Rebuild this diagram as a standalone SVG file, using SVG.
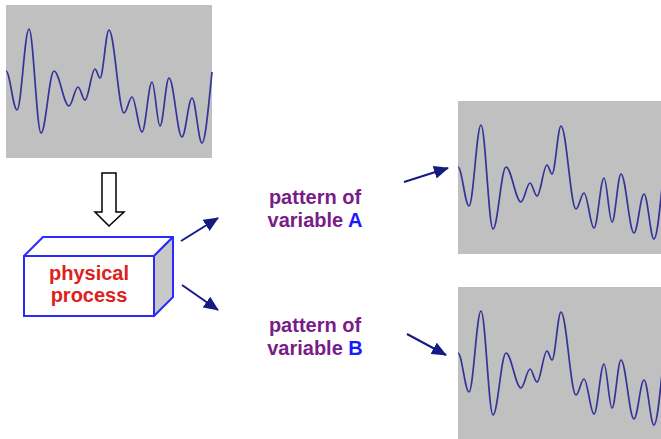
<svg xmlns="http://www.w3.org/2000/svg" width="661" height="439" viewBox="0 0 661 439">
<style>
.panel{fill:#c0c0c0}
.wave{fill:none;stroke:#33339a;stroke-width:1.7;stroke-linejoin:round}
.conn{stroke:#141a80;stroke-width:2;fill:none}
.lbl{font-family:"Liberation Sans",Arial,sans-serif;font-weight:bold;font-size:20px;text-anchor:middle}
.purple{fill:#7a1c88}
.red{fill:#e0201c}
.blue{fill:#1a1aff}
</style>
<defs>
<path id="wavePath" d="M6,71 C10,71 13,110 17,110 C21.3,110 24.7,29 29,29 C33.3,29 36.7,133 41,133 C45.7,133 49.3,71 54,71 C59.4,71 63.6,106 69,106 C72.2,106 74.8,87 78,87 C80.5,87 82.5,100 85,100 C88.6,100 91.4,69 95,69 C96.8,69 98.2,78 100,78 C103.2,78 105.8,30 109,30 C114.4,30 118.6,113 124,113 C126.9,113 129.1,97 132,97 C135.6,97 138.4,132 142,132 C145.6,132 148.4,82 152,82 C154.9,82 157.1,126 160,126 C163.2,126 165.8,78 169,78 C173.7,78 177.3,137 182,137 C185.6,137 188.4,98 192,98 C195.6,98 198.4,143 202,143 C205.6,143 209,100 212,72"/>
<marker id="ah" viewBox="0 0 15 13" refX="14" refY="6.5" markerWidth="15" markerHeight="13" markerUnits="userSpaceOnUse" orient="auto">
<path d="M0,0 L15,6.5 L0,13 Z" fill="#141a80"/>
</marker>
</defs>
<rect width="661" height="439" fill="#ffffff"/>
<g id="input-signal">
<rect class="panel" x="6" y="5" width="206" height="153"/>
<use href="#wavePath" class="wave"/>
</g>
<g id="signal-A">
<rect class="panel" x="458" y="101" width="210" height="153"/>
<use href="#wavePath" class="wave" transform="translate(452,96)"/>
</g>
<g id="signal-B">
<rect class="panel" x="458" y="287" width="210" height="160"/>
<use href="#wavePath" class="wave" transform="translate(452,282)"/>
</g>
<g id="physical-process">
<polygon points="24,256 43,237 173,237 154,256" fill="#ffffff" stroke="#2a2aff" stroke-width="2" stroke-linejoin="round"/>
<polygon points="154,256 173,237 173,297 154,316" fill="#c8c8c8" stroke="#2a2aff" stroke-width="2" stroke-linejoin="round"/>
<rect x="24" y="256" width="130" height="60" fill="#ffffff" stroke="#2a2aff" stroke-width="2"/>
<text class="lbl red" x="89" y="280">physical</text>
<text class="lbl red" x="89" y="302">process</text>
</g>
<g id="label-A">
<text class="lbl purple" x="315" y="204">pattern of</text>
<text class="lbl purple" x="315" y="227">variable <tspan class="blue">A</tspan></text>
</g>
<g id="label-B">
<text class="lbl purple" x="315" y="332">pattern of</text>
<text class="lbl purple" x="315" y="355">variable <tspan class="blue">B</tspan></text>
</g>
<g id="connectors">
<polygon points="102,173 116,173 116,212 124,212 109,226 95,212 102,212" fill="#ffffff" stroke="#000000" stroke-width="1.5" stroke-linejoin="miter"/>
<line class="conn" x1="181" y1="241" x2="218" y2="218" marker-end="url(#ah)"/>
<line class="conn" x1="182" y1="285" x2="218" y2="310" marker-end="url(#ah)"/>
<line class="conn" x1="404" y1="182" x2="448" y2="168" marker-end="url(#ah)"/>
<line class="conn" x1="407" y1="334" x2="446" y2="355" marker-end="url(#ah)"/>
</g>
</svg>
